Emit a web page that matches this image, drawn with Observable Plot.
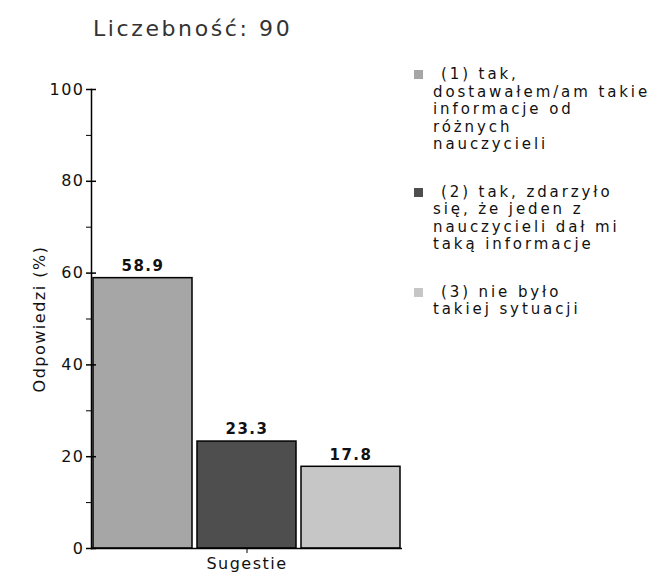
<!DOCTYPE html>
<html>
<head>
<meta charset="utf-8">
<script src="https://cdn.jsdelivr.net/npm/d3@7"></script>
<script src="https://cdn.jsdelivr.net/npm/@observablehq/plot@0.6"></script>
<style>
  html, body { margin: 0; padding: 0; background: #fff; }
  #wrap { position: relative; width: 661px; height: 574px; font-family: "DejaVu Sans", sans-serif; color: #111; }
  #title { height: 60px; box-sizing: border-box; padding-top: 16px; padding-left: 93px; font-size: 22px; line-height: 26px; letter-spacing: 2.6px; color: #333; }
  #legend { position: absolute; left: 413px; top: 66px; font-size: 15px; line-height: 17.5px; letter-spacing: 2.9px; white-space: nowrap; }
  .item { position: relative; padding-left: 20px; }
  .item + .item { margin-top: 30px; }
  .sw { position: absolute; left: 1px; top: 4px; width: 9px; height: 9px; }
  .item div:first-of-type { text-indent: 8px; }
  svg text { letter-spacing: 1.5px; }
</style>
</head>
<body>
<div id="wrap">
  <div id="title"></div>
  <div id="chart"></div>
  <div id="legend"></div>
</div>
<script>
const title = "Liczebność: 90";
const categories = ["(1)", "(2)", "(3)"];
const legendLines = [
  ["(1) tak,", "dostawałem/am takie", "informacje od", "różnych", "nauczycieli"],
  ["(2) tak, zdarzyło", "się, że jeden z", "nauczycieli dał mi", "taką informacje"],
  ["(3) nie było", "takiej sytuacji"]
];
const values = [58.9, 23.3, 17.8];
const fills = ["#a6a6a6", "#4e4e4e", "#c6c6c6"];
const majorTicks = [0, 20, 40, 60, 80, 100];
const minorTicks = [10, 30, 50, 70, 90];
const xLabel = "Sugestie";
const yLabel = "Odpowiedzi (%)";

document.getElementById("title").textContent = title;

const data = categories.map((c, i) => ({cat: c, value: values[i]}));

const chart = Plot.plot({
  width: 661,
  height: 514,
  marginLeft: 91,
  marginRight: 259,
  marginTop: 29,
  marginBottom: 26,
  style: {fontFamily: "DejaVu Sans, sans-serif", fontSize: "16px", color: "#111", background: "#fff"},
  x: {domain: categories, paddingInner: 0.05, paddingOuter: 0.015, axis: null},
  y: {domain: [0, 100], axis: null},
  color: {domain: categories, range: fills},
  marks: [
    Plot.barY(data, {x: "cat", y: "value", fill: "cat", stroke: "#000", strokeWidth: 1.5}),
    Plot.text(data, {x: "cat", y: "value", text: d => d.value.toFixed(1), dy: -12, fontWeight: "bold", fontSize: 15, fill: "#111"}),
    Plot.frame({anchor: "left", stroke: "#000", strokeWidth: 1.5}),
    Plot.ruleY([0], {stroke: "#000", strokeWidth: 1.5}),
    Plot.axisY({ticks: majorTicks, tickSize: 10, dx: 5, tickFormat: () => "", label: null, stroke: "#000", strokeWidth: 1.5}),
    Plot.axisY({ticks: minorTicks, tickSize: 5, tickFormat: () => "", label: null, stroke: "#000"}),
    Plot.axisY({ticks: majorTicks, tickSize: 0, tickPadding: 7, label: yLabel, labelAnchor: "center", labelArrow: "none", labelOffset: 58, fontSize: 16}),
    Plot.axisX({ticks: [categories[1]], tickSize: 5, tickPadding: 4, tickFormat: () => xLabel, label: null, stroke: "#000", fontSize: 16})
  ]
});
document.getElementById("chart").appendChild(chart);

const legend = document.getElementById("legend");
legendLines.forEach((lines, i) => {
  const item = document.createElement("div");
  item.className = "item";
  const sw = document.createElement("span");
  sw.className = "sw";
  sw.style.background = fills[i];
  item.appendChild(sw);
  lines.forEach(l => {
    const d = document.createElement("div");
    d.textContent = l;
    item.appendChild(d);
  });
  legend.appendChild(item);
});
</script>
</body>
</html>
